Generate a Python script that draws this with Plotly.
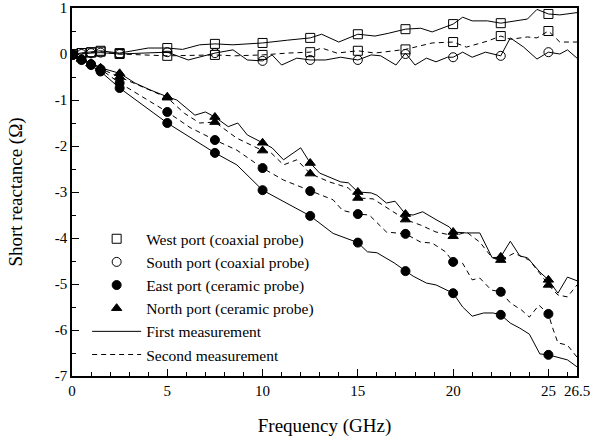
import plotly.graph_objects as go

# ---------------- data ----------------
marker_freq = [0.05, 0.5, 1, 1.5, 2.5, 5, 7.5, 10, 12.5, 15, 17.5, 20, 22.5, 25]

west1_mk = [0.0, 0.02, 0.04, 0.07, 0.02, 0.13, 0.22, 0.24, 0.35, 0.43, 0.54, 0.65, 0.67, 0.87]
west2_mk = [0.0, 0.02, 0.03, 0.05, 0.0, -0.04, -0.02, -0.02, 0.04, 0.07, 0.1, 0.26, 0.39, 0.5]
south1_mk = [0.0, 0.0, 0.02, 0.03, 0.0, 0.04, 0.02, -0.15, -0.13, -0.13, 0.0, -0.07, -0.04, 0.04]
east1_mk = [-0.02, -0.13, -0.24, -0.38, -0.74, -1.5, -2.15, -2.96, -3.52, -4.1, -4.72, -5.2, -5.67, -6.54]
east2_mk = [-0.02, -0.12, -0.22, -0.33, -0.63, -1.26, -1.87, -2.48, -2.98, -3.48, -3.91, -4.52, -5.17, -5.65]
north1_mk = [-0.02, -0.1, -0.2, -0.3, -0.42, -0.93, -1.37, -1.93, -2.37, -3.0, -3.48, -3.87, -4.41, -4.91]
north2_mk = [-0.02, -0.11, -0.21, -0.32, -0.5, -0.95, -1.48, -2.1, -2.6, -3.13, -3.6, -3.96, -4.48, -5.02]

west1_f = [0.05, 0.5, 1, 1.5, 2.5, 4.0, 5, 5.8, 6.7, 7.5, 8.45, 10, 11.3, 12.5, 13.1, 14.0, 15, 15.9, 16.6,
           17.5, 18.3, 18.9, 20, 20.5, 21.0, 21.8, 22.5, 23.2, 23.9, 24.4, 25, 25.6, 26.5]
west1_v = [0.0, 0.02, 0.04, 0.07, 0.02, 0.13, 0.13, 0.1, 0.2, 0.22, 0.2, 0.24, 0.3, 0.35, 0.43, 0.26, 0.43, 0.39, 0.45,
           0.54, 0.56, 0.48, 0.65, 0.8, 0.72, 0.72, 0.67, 0.72, 0.76, 0.97, 0.87, 0.85, 0.9]

west2_f = [0.05, 0.5, 1, 1.5, 2.5, 5, 7.5, 8.5, 10, 11.3, 12.5, 13.1, 13.9, 15, 15.9, 17.5, 18.9, 20, 20.7, 21.8,
           22.5, 23.0, 23.9, 24.4, 25, 25.6, 26.5]
west2_v = [0.0, 0.02, 0.03, 0.05, 0.0, -0.04, -0.02, -0.04, -0.02, 0.02, 0.04, 0.13, 0.02, 0.07, 0.02, 0.1, 0.24, 0.26,
           0.15, 0.28, 0.39, 0.32, 0.37, 0.35, 0.5, 0.26, 0.26]

south1_f = [0.05, 0.5, 1, 1.5, 2.5, 5, 6.1, 7.5, 8.45, 9.2, 10, 10.5, 11.0, 11.8, 12.5, 13.3, 14.1, 15, 15.7, 16.2,
            17.0, 17.5, 18.0, 18.6, 19.1, 19.7, 20, 20.5, 21.0, 21.7, 22.5, 23.0, 23.7, 24.4, 25, 25.6, 26.0, 26.5]
south1_v = [0.0, 0.0, 0.02, 0.03, 0.0, 0.04, -0.13, 0.02, 0.09, -0.13, -0.15, -0.02, -0.24, -0.09, -0.13, -0.13, -0.07,
            -0.13, -0.02, -0.04, -0.24, 0.02, -0.24, -0.09, -0.17, -0.07, -0.07, 0.04, -0.07, 0.04, -0.04, 0.35, 0.15,
            -0.11, 0.04, 0.0, 0.09, -0.09]

east1_f = [0.05, 0.5, 1, 1.5, 2.5, 5, 7.5, 8.65, 10, 11.1, 12.5, 13.7, 15, 15.5, 16.0, 16.9, 17.5, 17.9, 18.6, 19.1,
           20, 20.5, 21.0, 21.6, 22.1, 22.5, 23.0, 23.5, 24.0, 24.55, 25, 25.5, 26.0, 26.5]
east1_v = [-0.02, -0.13, -0.24, -0.38, -0.74, -1.5, -2.15, -2.41, -2.96, -3.2, -3.52, -3.9, -4.1, -4.3, -4.32, -4.54,
           -4.72, -4.83, -4.98, -5.02, -5.2, -5.5, -5.7, -5.63, -5.63, -5.67, -5.85, -5.96, -6.09, -6.52, -6.54, -6.59,
           -6.65, -6.8]

east2_f = [0.05, 0.5, 1, 1.5, 2.5, 5, 6.2, 7.5, 8.65, 10, 11.1, 12.5, 13.7, 14.2, 15, 15.6, 16.5, 17.5, 18.3, 18.9,
           19.6, 20, 20.5, 21.0, 21.4, 22.0, 22.5, 23.0, 23.6, 24.0, 24.5, 25, 25.2, 25.5, 26.0, 26.5]
east2_v = [-0.02, -0.12, -0.22, -0.33, -0.63, -1.26, -1.6, -1.87, -2.09, -2.48, -2.74, -2.98, -3.17, -3.4, -3.48,
           -3.5, -3.87, -3.91, -4.09, -4.11, -4.3, -4.52, -4.55, -4.91, -4.87, -5.13, -5.17, -5.41, -5.57, -5.72,
           -5.46, -5.65, -5.93, -6.28, -6.33, -6.59]

north1_f = [0.05, 0.5, 1, 1.5, 2.5, 3.3, 4.1, 5, 5.5, 6.45, 7.0, 7.5, 8.2, 8.7, 9.2, 10, 10.5, 11.1, 12.0, 12.5,
            13.0, 14.1, 14.5, 15, 15.7, 16.0, 16.5, 16.95, 17.5, 17.9, 18.4, 19.1, 19.8, 20, 20.7, 21.4, 22.05, 22.5,
            23.0, 23.5, 23.9, 24.55, 25, 25.5, 26.0, 26.5]
north1_v = [-0.02, -0.1, -0.2, -0.3, -0.42, -0.63, -0.78, -0.93, -1.0, -1.33, -1.26, -1.37, -1.58, -1.5, -1.76,
            -1.93, -2.04, -2.3, -2.04, -2.37, -2.59, -2.78, -2.8, -3.0, -3.02, -3.07, -3.24, -3.2, -3.48, -3.5, -3.43,
            -3.6, -3.76, -3.87, -3.89, -3.89, -4.43, -4.41, -4.07, -4.39, -4.43, -4.74, -4.91, -5.2, -4.85, -4.93]

north2_f = [0.05, 0.5, 1, 1.5, 2.5, 5, 5.9, 6.7, 7.5, 8.65, 10, 10.4, 11.1, 11.8, 12.5, 13.5, 14.5, 15, 15.8, 16.5,
            17.5, 18.3, 19.1, 19.8, 20, 20.7, 21.4, 22.05, 22.5, 23.2, 24.0, 24.7, 25, 25.5, 26.0, 26.5]
north2_v = [-0.02, -0.11, -0.21, -0.32, -0.5, -0.95, -1.29, -1.5, -1.48, -1.83, -2.1, -2.13, -2.41, -2.3, -2.6,
            -2.78, -2.91, -3.13, -3.15, -3.33, -3.6, -3.72, -3.87, -3.93, -3.96, -3.87, -4.09, -4.43, -4.48, -4.33,
            -4.48, -4.85, -5.02, -5.24, -5.28, -5.02]

x_tickvals = [0, 5, 10, 15, 20, 25, 26.5]
x_ticktext = ["0", "5", "10", "15", "20", "25", "26.5"]
y_tickvals = [-7, -6, -5, -4, -3, -2, -1, 0, 1]
y_ticktext = ["-7", "-6", "-5", "-4", "-3", "-2", "-1", "0", "1"]

# ---------------- figure ----------------
FONT = "Times New Roman, Liberation Serif, serif"
BLACK = "#000000"
DASH = "5px,4px"

fig = go.Figure()

lines = [
    (west1_f, west1_v, "solid", "First measurement", True, 5),
    (west2_f, west2_v, DASH, "Second measurement", True, 6),
    (south1_f, south1_v, "solid", "", False, 10),
    (east1_f, east1_v, "solid", "", False, 10),
    (east2_f, east2_v, DASH, "", False, 10),
    (north1_f, north1_v, "solid", "", False, 10),
    (north2_f, north2_v, DASH, "", False, 10),
]
for f, v, dash, name, show, rank in lines:
    fig.add_trace(go.Scatter(x=f, y=v, mode="lines", name=name, showlegend=show, legendrank=rank,
                             line=dict(color=BLACK, width=1, dash=dash)))

marks = [
    (west1_mk, "square-open", 9, "West port (coaxial probe)", True, 1),
    (west2_mk, "square-open", 9, "", False, 10),
    (south1_mk, "circle-open", 9, "South port (coaxial probe)", True, 2),
    (east1_mk, "circle", 9, "East port (ceramic probe)", True, 3),
    (east2_mk, "circle", 9, "", False, 10),
    (north1_mk, "triangle-up", 9, "North port (ceramic probe)", True, 4),
    (north2_mk, "triangle-up", 9, "", False, 10),
]
for v, sym, size, name, show, rank in marks:
    fig.add_trace(go.Scatter(x=marker_freq, y=v, mode="markers", name=name, showlegend=show, legendrank=rank,
                             marker=dict(symbol=sym, size=size, color=BLACK,
                                         line=dict(color=BLACK, width=1))))

axis_common = dict(showline=True, linecolor=BLACK, linewidth=1.5, mirror=True, showgrid=False, zeroline=False,
                   ticks="inside", ticklen=7, tickwidth=1, tickcolor=BLACK, automargin=False,
                   tickfont=dict(family=FONT, size=15, color=BLACK))

fig.update_xaxes(range=[0, 26.5], tickmode="array", tickvals=x_tickvals, ticktext=x_ticktext,
                 minor=dict(ticks="inside", ticklen=4, tick0=0, dtick=1, tickcolor=BLACK),
                 title=dict(text="Frequency (GHz)", font=dict(family=FONT, size=19, color=BLACK), standoff=21),
                 **axis_common)
fig.update_yaxes(range=[-7, 1], tickmode="array", tickvals=y_tickvals, ticktext=y_ticktext,
                 minor=dict(ticks="inside", ticklen=4, tick0=0, dtick=0.5, tickcolor=BLACK),
                 title=dict(text="Short reactance (Ω)", font=dict(family=FONT, size=19, color=BLACK), standoff=27),
                 **axis_common)

fig.update_layout(
    width=603, height=442,
    margin=dict(l=72, r=26, t=8, b=66),
    paper_bgcolor="white", plot_bgcolor="white",
    font=dict(family=FONT, size=15, color=BLACK),
    legend=dict(x=0.030, y=0.418, xanchor="left", yanchor="top", bgcolor="rgba(0,0,0,0)",
                font=dict(family=FONT, size=15.5, color=BLACK), itemwidth=49, tracegroupgap=0),
    showlegend=True,
)

fig.write_html("out.html", config={"displayModeBar": False},
               post_script="document.body.style.margin='0';")
